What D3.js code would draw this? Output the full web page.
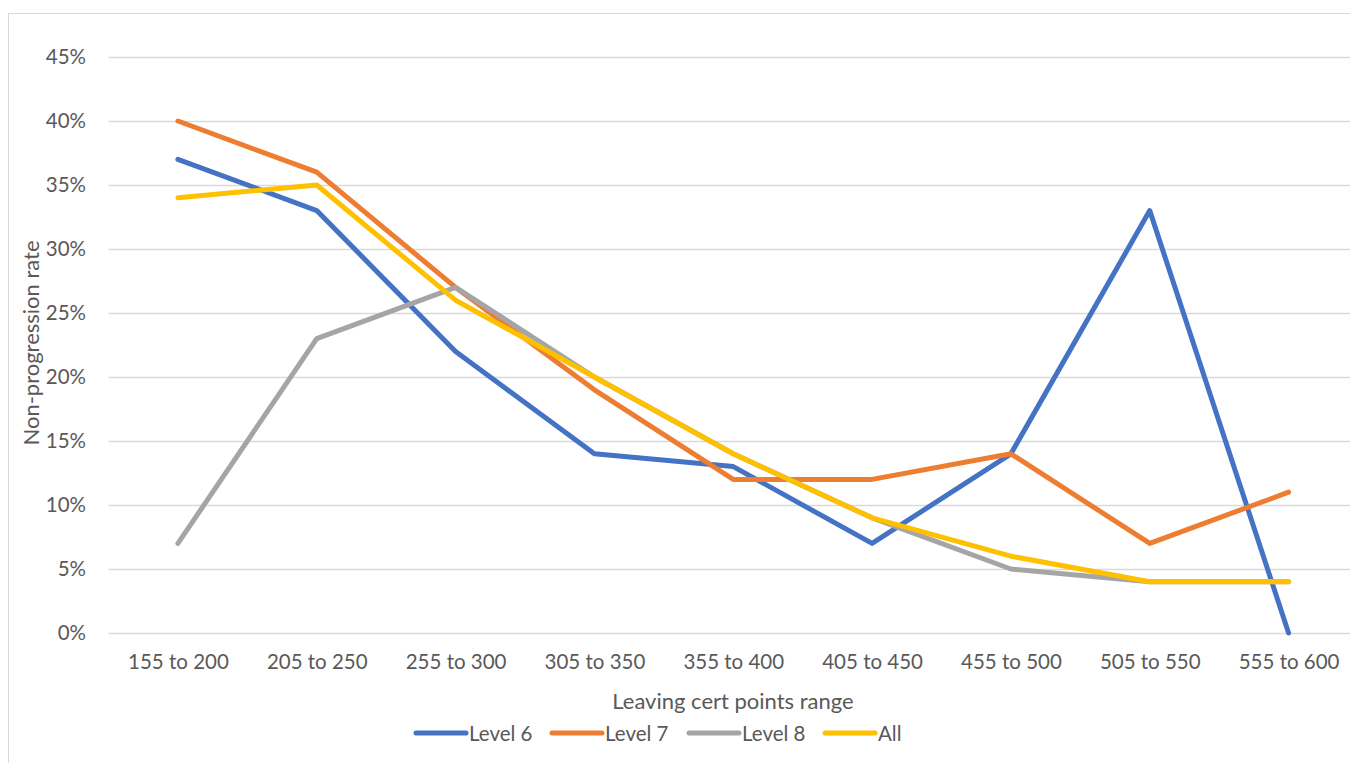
<!DOCTYPE html>
<html>
<head>
<meta charset="utf-8">
<script src="https://cdn.jsdelivr.net/npm/d3@7"></script>
<style>
  body { margin: 0; background: #fff; }
  svg { font-family: Lato, "Open Sans", sans-serif; }
</style>
</head>
<body>
<div id="chart"></div>
<script>
// data
const categories = ["155 to 200", "205 to 250", "255 to 300", "305 to 350", "355 to 400",
  "405 to 450", "455 to 500", "505 to 550", "555 to 600"];
const level6 = [37, 33, 22, 14, 13, 7, 14, 33, 0];
const level7 = [40, 36, 27, 19, 12, 12, 14, 7, 11];
const level8 = [7, 23, 27, 20, 14, 9, 5, 4, 4];
const all = [34, 35, 26, 20, 14, 9, 6, 4, 4];
const yTicks = [0, 5, 10, 15, 20, 25, 30, 35, 40, 45];

const series = [
  { name: "Level 6", values: level6, color: "#4472C4" },
  { name: "Level 7", values: level7, color: "#ED7D31" },
  { name: "Level 8", values: level8, color: "#A5A5A5" },
  { name: "All", values: all, color: "#FFC000" }
];

const width = 1350, height = 763;
const svg = d3.select("#chart").append("svg")
  .attr("width", width).attr("height", height);

// outer chart border
svg.append("rect")
  .attr("x", 8.5).attr("y", 13.5)
  .attr("width", 1400).attr("height", 800)
  .attr("fill", "none").attr("stroke", "#d9d9d9").attr("stroke-width", 1);

const plot = { left: 108.5, right: 1358, top: 57, bottom: 633 };

const x = d3.scalePoint().domain(categories)
  .range([plot.left, plot.right]).padding(0.5);
const y = d3.scaleLinear().domain([0, 45]).range([plot.bottom, plot.top]);

// gridlines
svg.append("g").selectAll("line").data(yTicks).enter().append("line")
  .attr("x1", plot.left).attr("x2", plot.right)
  .attr("y1", d => Math.round(y(d)) + 0.5).attr("y2", d => Math.round(y(d)) + 0.5)
  .attr("stroke", "#d9d9d9").attr("stroke-width", 1.3);

// y axis labels
const yAxis = d3.axisLeft(y).tickValues(yTicks).tickFormat(d => d + "%").tickSize(0).tickPadding(0);
const gy = svg.append("g").attr("transform", `translate(${86},0)`).call(yAxis);
gy.select(".domain").remove();
gy.selectAll("text").attr("fill", "#595959").style("font-size", "20.5px")
  .style("font-family", "Lato, 'Open Sans', sans-serif");

// x axis labels
const xAxis = d3.axisBottom(x).tickSize(0).tickPadding(0);
const gx = svg.append("g").attr("transform", `translate(0,${plot.bottom + 21})`).call(xAxis);
gx.select(".domain").remove();
gx.selectAll("text").attr("fill", "#595959").style("font-size", "20.5px")
  .style("font-family", "Lato, 'Open Sans', sans-serif");

// axis titles
svg.append("text")
  .attr("x", 733).attr("y", 709)
  .attr("text-anchor", "middle").attr("fill", "#595959")
  .style("font-size", "22px").text("Leaving cert points range");

svg.append("text")
  .attr("transform", `translate(39,${(plot.top + plot.bottom) / 2 - 2}) rotate(-90)`)
  .attr("text-anchor", "middle").attr("fill", "#595959")
  .style("font-size", "22px").text("Non-progression rate");

// lines
const line = d3.line()
  .x((d, i) => x(categories[i]))
  .y(d => y(d));

svg.append("g").selectAll("path").data(series).enter().append("path")
  .attr("d", d => line(d.values))
  .attr("fill", "none")
  .attr("stroke", d => d.color)
  .attr("stroke-width", 5)
  .attr("stroke-linejoin", "round")
  .attr("stroke-linecap", "round");

// legend
const legendX = [416, 552, 689, 825];
const lg = svg.append("g").selectAll("g").data(series).enter().append("g")
  .attr("transform", (d, i) => `translate(${legendX[i]},733)`);
lg.append("line")
  .attr("x1", 0).attr("x2", 50).attr("y1", 0).attr("y2", 0)
  .attr("stroke", d => d.color).attr("stroke-width", 5).attr("stroke-linecap", "round");
lg.append("text")
  .attr("x", 53).attr("y", 7.5)
  .attr("fill", "#595959").style("font-size", "20.5px")
  .text(d => d.name);
</script>
</body>
</html>
